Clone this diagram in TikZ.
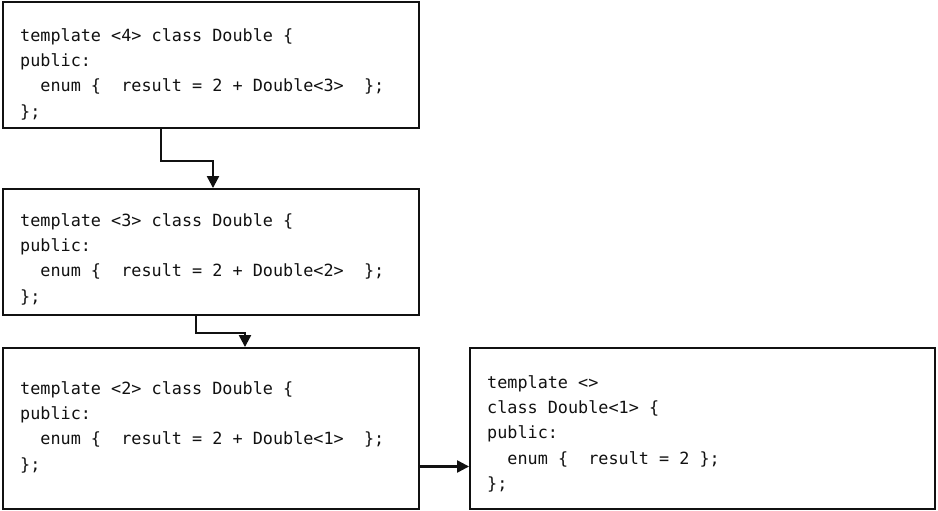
\documentclass[tikz,border=0pt]{standalone}
\usepackage{fontspec}
\newfontfamily\codefont{DejaVu Sans Mono}
\usetikzlibrary{arrows.meta,calc}
\definecolor{ink}{HTML}{111111}
\tikzset{
  codebox/.style={draw=ink, line width=1.9pt, inner sep=0pt, fill=white},
  code/.style={anchor=north west, inner sep=0pt, align=left, text=ink,
    font=\codefont\fontsize{16.8}{25.3}\selectfont},
  arr/.style={draw=ink, line width=2.3pt, -{Triangle[width=12pt,length=12pt]}}
}
\newcommand{\fl}{\rule{0pt}{15pt}}
\begin{document}
\begin{tikzpicture}[x=1pt,y=-1pt]
\useasboundingbox (0,0) rectangle (938,511);
\node[codebox, minimum width=416pt, minimum height=126pt] (b1) at (211,65) {};
\node[codebox, minimum width=416pt, minimum height=126pt] (b2) at (211,252) {};
\node[codebox, minimum width=416pt, minimum height=161pt] (b3) at (211,428.5) {};
\node[codebox, minimum width=465pt, minimum height=161pt] (b4) at (702.5,428.5) {};
\node[code] (t1) at (20,26) {\fl template <4> class Double \{\\public:\\ \ \ enum \{\ \ result = 2 + Double<3>\ \ \};\\\};};
\node[code] (t2) at (20,211) {\fl template <3> class Double \{\\public:\\ \ \ enum \{\ \ result = 2 + Double<2>\ \ \};\\\};};
\node[code] (t3) at (20,379) {\fl template <2> class Double \{\\public:\\ \ \ enum \{\ \ result = 2 + Double<1>\ \ \};\\\};};
\node[code] (t4) at (487,373) {\fl template <>\\class Double<1> \{\\public:\\ \ \ enum \{\ \ result = 2 \};\\\};};
\draw[arr] ([xshift=-50pt]b1.south) -- ++(0,32) -| ([xshift=2pt]b2.north);
\draw[arr] ([xshift=-15pt]b2.south) -- ++(0,17) -| ([xshift=34pt]b3.north);
\draw[arr] ([yshift=-38pt]b3.east) -- ([yshift=-38pt]b4.west);
\end{tikzpicture}
\end{document}
